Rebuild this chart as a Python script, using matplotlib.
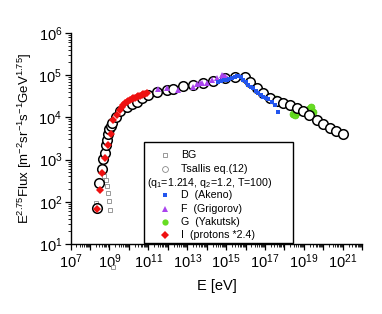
import numpy as np
import matplotlib
matplotlib.use("Agg")
import matplotlib.pyplot as plt
from matplotlib.ticker import LogLocator, FuncFormatter, NullFormatter
from matplotlib.patches import Rectangle

plt.rcParams['font.family'] = ['Liberation Sans', 'DejaVu Sans']
plt.rcParams['mathtext.fontset'] = 'custom'
plt.rcParams['mathtext.rm'] = 'Liberation Sans'
plt.rcParams['mathtext.it'] = 'Liberation Sans'

# Tsallis eq.(12) curve (log10 E, log10 flux)
tsallis_logE = [8.35, 8.48, 8.60, 8.69, 8.77, 8.83, 8.86, 8.91, 9.00, 9.08, 9.15,
                9.32, 9.55, 9.89, 10.15, 10.40, 10.70, 11.00, 11.43, 11.95, 12.29,
                12.80, 13.31, 13.83, 14.34, 14.94, 15.46, 15.97, 16.25, 16.57,
                16.91, 17.26, 17.60, 17.94, 18.29, 18.63, 18.94, 19.28, 19.66,
                20.00, 20.34, 20.65, 20.99]
tsallis_logF = [1.85, 2.44, 2.77, 3.01, 3.16, 3.35, 3.46, 3.61, 3.72, 3.80, 3.86,
                4.00, 4.14, 4.25, 4.31, 4.37, 4.45, 4.53, 4.61, 4.65, 4.67,
                4.74, 4.77, 4.82, 4.87, 4.93, 4.96, 4.96, 4.83, 4.70,
                4.58, 4.46, 4.40, 4.33, 4.29, 4.22, 4.15, 4.06, 3.94,
                3.84, 3.76, 3.68, 3.60]

# BG
bg_logE = [8.31, 8.72, 8.80, 8.86, 8.91, 8.97, 9.03, 9.20]
bg_logF = [1.98, 2.62, 2.52, 2.37, 2.22, 2.02, 1.81, 0.46]

# D (Akeno)
akeno_logE = [14.60, 14.75, 14.90, 15.03, 15.15, 15.30, 15.46, 15.55, 15.63, 15.75,
              15.89, 16.00, 16.14, 16.27, 16.40, 16.53, 16.66, 16.78, 16.91,
              17.04, 17.17, 17.34, 17.51, 17.68]
akeno_logF = [4.85, 4.87, 4.88, 4.89, 4.92, 4.94, 4.96, 4.97, 4.98, 4.95,
              4.89, 4.83, 4.77, 4.73, 4.69, 4.63, 4.57, 4.53, 4.49,
              4.46, 4.43, 4.37, 4.29, 4.13]

# F (Grigorov)
grig_logE = [11.51, 11.95, 12.54, 13.31, 13.49, 13.66, 13.75, 14.00, 14.26, 14.52,
             14.77, 14.85, 14.94, 15.05]
grig_logF = [4.67, 4.69, 4.65, 4.73, 4.80, 4.81, 4.82, 4.81, 4.88, 4.93,
             5.01, 4.97, 4.98, 4.93]

# G (Yakutsk)
yak_logE = [17.55, 17.65, 18.45, 18.55, 18.65, 19.25, 19.35, 19.45]
yak_logF = [4.43, 4.36, 4.09, 4.06, 4.13, 4.20, 4.24, 4.12]

# I (protons *2.4)
prot_logE = [8.35, 8.52, 8.63, 8.77, 8.94, 9.08, 9.20, 9.37, 9.55, 9.63, 9.71,
             9.80, 9.89, 9.98, 10.06, 10.15, 10.23, 10.31, 10.40, 10.48, 10.57,
             10.65, 10.74, 10.85, 10.95]
prot_logF = [1.82, 2.28, 2.69, 3.03, 3.35, 3.61, 3.94, 4.06, 4.18, 4.25, 4.29,
             4.33, 4.37, 4.39, 4.41, 4.43, 4.45, 4.47, 4.49, 4.50, 4.51,
             4.53, 4.55, 4.56, 4.57]


def p(v):
    return 10.0 ** np.array(v)


fig = plt.figure(figsize=(3.82, 3.14), dpi=100)
ax = fig.add_axes([0.1846, 0.2229, 0.7637, 0.672])

ax.plot(p(yak_logE), p(yak_logF), 'o', ms=5.0, color='#66dd22', mec='#55cc11',
        mew=0.5, zorder=2)
ax.plot(p(bg_logE), p(bg_logF), 's', ms=3.4, mfc='white', mec='#888888',
        mew=0.6, zorder=2.5, clip_on=False)
ax.plot(p(tsallis_logE), p(tsallis_logF), 'o', ms=6.9, mfc='white', mec='black',
        mew=1.1, zorder=3)
ax.plot(p(grig_logE), p(grig_logF), '^', ms=4.3, color='#aa44ee', mew=0, zorder=4)
ax.plot(p(akeno_logE), p(akeno_logF), 's', ms=3.0, color='#2255ee', mew=0, zorder=5)
ax.plot(p(prot_logE), p(prot_logF), 'D', ms=4.0, color='#ee1111', mew=0, zorder=6)

ax.set_xscale('log')
ax.set_yscale('log')
ax.set_xlim(1e7, 1e22)
ax.set_ylim(1e1, 1e6)

ax.spines['top'].set_visible(False)
ax.spines['right'].set_visible(False)
for s in ['left', 'bottom']:
    ax.spines[s].set_linewidth(1.0)


def xfmt(v, pos):
    e = int(round(np.log10(v)))
    return r'$\mathdefault{10^{%d}}$' % e if e % 2 == 1 else ''


def yfmt(v, pos):
    e = int(round(np.log10(v)))
    return r'$\mathdefault{10^{%d}}$' % e


ax.xaxis.set_major_locator(LogLocator(base=10, numticks=20))
ax.xaxis.set_major_formatter(FuncFormatter(xfmt))
ax.xaxis.set_minor_locator(LogLocator(base=10, subs=np.arange(2, 10), numticks=50))
ax.xaxis.set_minor_formatter(NullFormatter())
ax.yaxis.set_major_locator(LogLocator(base=10, numticks=10))
ax.yaxis.set_major_formatter(FuncFormatter(yfmt))
ax.yaxis.set_minor_locator(LogLocator(base=10, subs=np.arange(2, 10), numticks=50))
ax.yaxis.set_minor_formatter(NullFormatter())
ax.tick_params(which='major', direction='out', length=4, width=0.9, labelsize=10.5, pad=2)
ax.tick_params(which='minor', direction='out', length=2, width=0.6)

ax.set_xlabel('E [eV]', fontsize=10.5, labelpad=6)
ax.set_ylabel(r'E$^{2.75}$Flux [m$^{-2}$sr$^{-1}$s$^{-1}$GeV$^{1.75}$]',
              fontsize=9.5, labelpad=3)

# legend box
ax.add_patch(Rectangle((0.252, 0.005), 0.511, 0.478, transform=ax.transAxes,
                       fill=True, fc='white', ec='black', lw=1.0, zorder=10))
mx, tx = 0.324, 0.379
rows = [
    (0.422, dict(marker='s', ms=3.4, mfc='white', mec='#888888', mew=0.6), 'BG'),
    (0.355, dict(marker='o', ms=4.2, mfc='white', mec='#888888', mew=0.6), 'Tsallis eq.(12)'),
    (0.232, dict(marker='s', ms=3.2, color='#2255ee', mew=0), 'D  (Akeno)'),
    (0.166, dict(marker='^', ms=4.8, color='#aa44ee', mew=0), 'F  (Grigorov)'),
    (0.104, dict(marker='o', ms=4.5, color='#66dd22', mew=0), 'G  (Yakutsk)'),
    (0.043, dict(marker='D', ms=4.3, color='#ee1111', mew=0), 'I  (protons *2.4)'),
]
for y, style, label in rows:
    ax.plot([mx], [y], linestyle='none', transform=ax.transAxes, zorder=11, **style)
    ax.text(tx, y, label, transform=ax.transAxes, fontsize=7.7, va='center',
            ha='left', zorder=11)
ax.text(0.262, 0.289, r'(q$_1$=1.214, q$_2$=1.2, T=100)', transform=ax.transAxes,
        fontsize=7.7, va='center', ha='left', zorder=11)

fig.savefig('out.png', dpi=100)
